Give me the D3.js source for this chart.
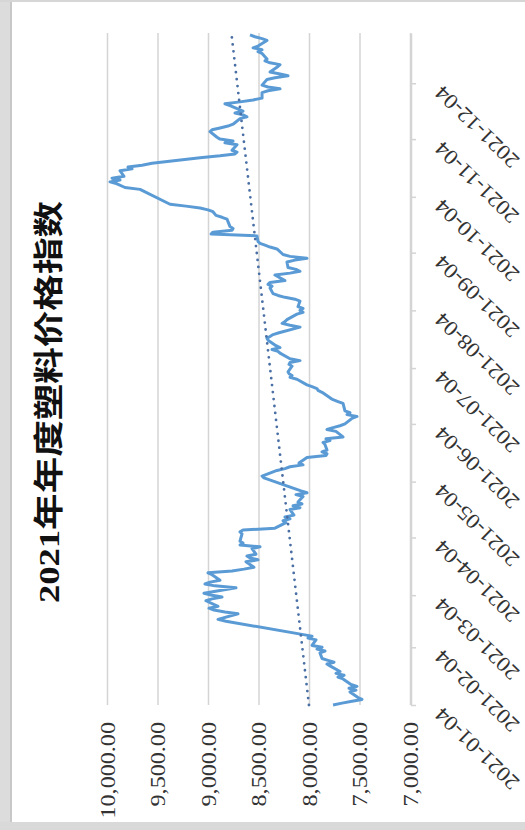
<!DOCTYPE html>
<html>
<head>
<meta charset="utf-8">
<script src="https://cdn.jsdelivr.net/npm/d3@7"></script>
<style>
  html, body { margin: 0; padding: 0; background: #fff; }
  svg { display: block; }
</style>
</head>
<body>
<svg width="525" height="830"></svg>
<script>
const title = "2021年年度塑料价格指数";

// trading days (2021) and index values
const dates = [
  "01-04","01-05","01-06","01-07","01-08","01-11","01-12","01-13","01-14","01-15",
  "01-18","01-19","01-20","01-21","01-22","01-25","01-26","01-27","01-28","01-29",
  "02-01","02-02","02-03","02-04","02-05","02-08","02-09","02-10",
  "02-18","02-19","02-22","02-23","02-24","02-25","02-26",
  "03-01","03-02","03-03","03-04","03-05","03-08","03-09","03-10","03-11","03-12",
  "03-15","03-16","03-17","03-18","03-19","03-22","03-23","03-24","03-25","03-26",
  "03-29","03-30","03-31","04-01","04-02",
  "04-06","04-07","04-08","04-09","04-12","04-13","04-14","04-15","04-16",
  "04-19","04-20","04-21","04-22","04-23","04-26","04-27","04-28","04-29","04-30",
  "05-06","05-07","05-10","05-11","05-12","05-13","05-14","05-17","05-18","05-19",
  "05-20","05-21","05-24","05-25","05-26","05-27","05-28","05-31",
  "06-01","06-02","06-03","06-04","06-07","06-08","06-09","06-10","06-11",
  "06-15","06-16","06-17","06-18","06-21","06-22","06-23","06-24","06-25",
  "06-28","06-29","06-30","07-01","07-02","07-05","07-06","07-07","07-08","07-09",
  "07-12","07-13","07-14","07-15","07-16","07-19","07-20","07-21","07-22","07-23",
  "07-26","07-27","07-28","07-29","07-30","08-02","08-03","08-04","08-05","08-06",
  "08-09","08-10","08-11","08-12","08-13","08-16","08-17","08-18","08-19","08-20",
  "08-23","08-24","08-25","08-26","08-27","08-30","08-31","09-01","09-02","09-03",
  "09-06","09-07","09-08","09-09","09-10","09-13","09-14","09-15","09-16","09-17",
  "09-18","09-22","09-23","09-24","09-26","09-27","09-28","09-29","09-30",
  "10-08","10-09","10-11","10-12","10-13","10-14","10-15","10-18","10-19","10-20",
  "10-21","10-22","10-25","10-26","10-27","10-28","10-29",
  "11-01","11-02","11-03","11-04","11-05","11-08","11-09","11-10","11-11","11-12",
  "11-15","11-16","11-17","11-18","11-19","11-22","11-23","11-24","11-25","11-26",
  "11-29","11-30","12-01","12-02","12-03","12-06","12-07","12-08","12-09","12-10",
  "12-13","12-14","12-15","12-16","12-17","12-20","12-21","12-22","12-23","12-24",
  "12-27","12-28","12-29","12-30"
];

const prices = [
  7762,7673,7574,7475,7515,7594,7535,7604,7525,7584,
  7663,7713,7653,7733,7693,7792,7822,7752,7812,7871,
  7891,7842,7921,7871,7970,7931,8010,7970,
  8822,8901,8703,8832,8941,8990,8901,
  9020,8960,8861,8960,9040,8723,8931,9030,8980,8881,
  8960,9000,8762,8644,8545,8624,8505,8584,8614,8525,
  8564,8485,8683,8653,8683,
  8663,8683,8653,8337,8228,8257,8188,8238,8149,
  8188,8089,8158,8069,8109,8059,8129,8020,8079,8129,
  8446,8465,8317,8238,8188,8059,8099,8020,7832,7822,
  7871,7822,7842,7861,7792,7832,7663,7733,
  7822,7762,7693,7644,7574,7525,7624,7594,7644,
  7663,7713,7762,7792,7871,7911,7921,7970,8020,
  8119,8188,8168,8198,8208,8168,8198,8188,8089,8188,
  8287,8307,8366,8287,8327,8406,8416,8386,8356,8297,
  8089,8188,8267,8238,8218,8119,8059,8089,8059,8109,
  8089,8139,8238,8307,8356,8386,8366,8406,8386,8238,
  8337,8188,8089,8129,8208,8218,8139,8020,8188,8257,
  8317,8386,8436,8485,8505,8515,8970,8951,8762,8752,
  8782,8812,8861,8921,8951,9000,9079,9218,9376,
  9673,9822,9901,9970,9871,9950,9832,9871,9752,9792,
  9653,9554,9079,8881,8733,8713,8762,
  8713,8832,8752,8881,8911,8980,8960,8881,8802,8752,
  8683,8614,8653,8733,8653,8782,8832,8683,8554,8465,
  8465,8406,8287,8406,8465,8416,8337,8208,8287,8386,
  8307,8287,8386,8436,8416,8465,8505,8465,8554,8505,
  8416,8465,8535,8584
];

const monthTicks = ["2021-01-04","2021-02-04","2021-03-04","2021-04-04","2021-05-04","2021-06-04",
  "2021-07-04","2021-08-04","2021-09-04","2021-10-04","2021-11-04","2021-12-04"];
const valueTicks = [7000, 7500, 8000, 8500, 9000, 9500, 10000];

const parse = d3.timeParse("%Y-%m-%d");
const data = dates.map((d, i) => ({ date: parse("2021-" + d), value: prices[i] }));

const svg = d3.select("svg");

// page edges (scanned look)
svg.append("rect").attr("x", 0).attr("y", 0).attr("width", 525).attr("height", 830).attr("fill", "#fff");
svg.append("rect").attr("x", 0).attr("y", 0).attr("width", 10).attr("height", 830).attr("fill", "#dcdcdc");
svg.append("rect").attr("x", 10).attr("y", 0).attr("width", 2).attr("height", 830).attr("fill", "#c8c8c8");
svg.append("rect").attr("x", 0).attr("y", 0).attr("width", 525).attr("height", 2).attr("fill", "#d6d6d6");
svg.append("rect").attr("x", 0).attr("y", 822).attr("width", 525).attr("height", 8).attr("fill", "#d9d9d9");

// chart is laid out turned a quarter turn: time runs bottom -> top, value right -> left
const y = d3.scaleTime()
  .domain([parse("2021-01-04"), parse("2021-12-31")])
  .range([705, 33]);

const x = d3.scaleLinear()
  .domain([7000, 10000])
  .range([410, 107]);

// value gridlines + labels
const gx = svg.append("g")
  .attr("transform", "translate(0,705)")
  .call(d3.axisBottom(x).tickValues(valueTicks).tickSize(-(705 - 33)).tickSizeOuter(0)
    .tickFormat(d3.format(",.2f")));
gx.select(".domain").remove();
gx.selectAll(".tick line").attr("stroke", "#d4d4d4").attr("stroke-width", 1.5);
gx.selectAll(".tick text")
  .attr("y", 0).attr("dy", "0.35em")
  .attr("transform", "translate(0,17) rotate(-90) scale(1.15,1)")
  .attr("text-anchor", "end")
  .attr("font-family", "'Liberation Serif', 'Times New Roman', serif")
  .attr("font-size", 21)
  .attr("fill", "#333");

// date axis
const gy = svg.append("g")
  .attr("transform", "translate(411,0)")
  .call(d3.axisRight(y).tickValues(monthTicks.map(parse)).tickSize(5).tickSizeOuter(0)
    .tickFormat(d3.timeFormat("%Y-%m-%d")));
gy.select(".domain").attr("stroke", "#d4d4d4").attr("stroke-width", 1.5);
gy.selectAll(".tick line").attr("stroke", "#d4d4d4").attr("stroke-width", 1.5);
gy.selectAll(".tick text")
  .attr("x", 0).attr("dy", "0.35em")
  .attr("transform", "translate(27,6) rotate(-136) scale(1.1,1)")
  .attr("text-anchor", "end")
  .attr("font-family", "'Liberation Serif', 'Times New Roman', serif")
  .attr("font-size", 21)
  .attr("fill", "#333");

// series line
const line = d3.line()
  .x(d => x(d.value))
  .y(d => y(d.date));

svg.append("path")
  .datum(data)
  .attr("fill", "none")
  .attr("stroke", "#5b9bd5")
  .attr("stroke-width", 3)
  .attr("stroke-linejoin", "round")
  .attr("d", line);

// linear trendline (least squares over the series)
const t = data.map(d => +d.date), v = data.map(d => d.value);
const mt = d3.mean(t), mv = d3.mean(v);
const slope = d3.sum(t, (ti, i) => (ti - mt) * (v[i] - mv)) / d3.sum(t, ti => (ti - mt) * (ti - mt));
const trend = [data[0].date, data[data.length - 1].date].map(d => ({ date: d, value: mv + slope * (+d - mt) }));

svg.append("path")
  .datum(trend)
  .attr("fill", "none")
  .attr("stroke", "#4a6fa5")
  .attr("stroke-width", 2.8)
  .attr("stroke-linecap", "round")
  .attr("stroke-dasharray", "0,7")
  .attr("d", line);

// title
svg.append("text")
  .attr("transform", "translate(48,402) rotate(-90)")
  .attr("text-anchor", "middle")
  .attr("dy", "0.35em")
  .attr("font-family", "'Liberation Serif', 'Noto Sans CJK SC', serif")
  .attr("font-weight", "bold")
  .attr("font-size", 30)
  .attr("textLength", 402)
  .attr("lengthAdjust", "spacingAndGlyphs")
  .attr("fill", "#111")
  .text(title);
</script>
</body>
</html>
